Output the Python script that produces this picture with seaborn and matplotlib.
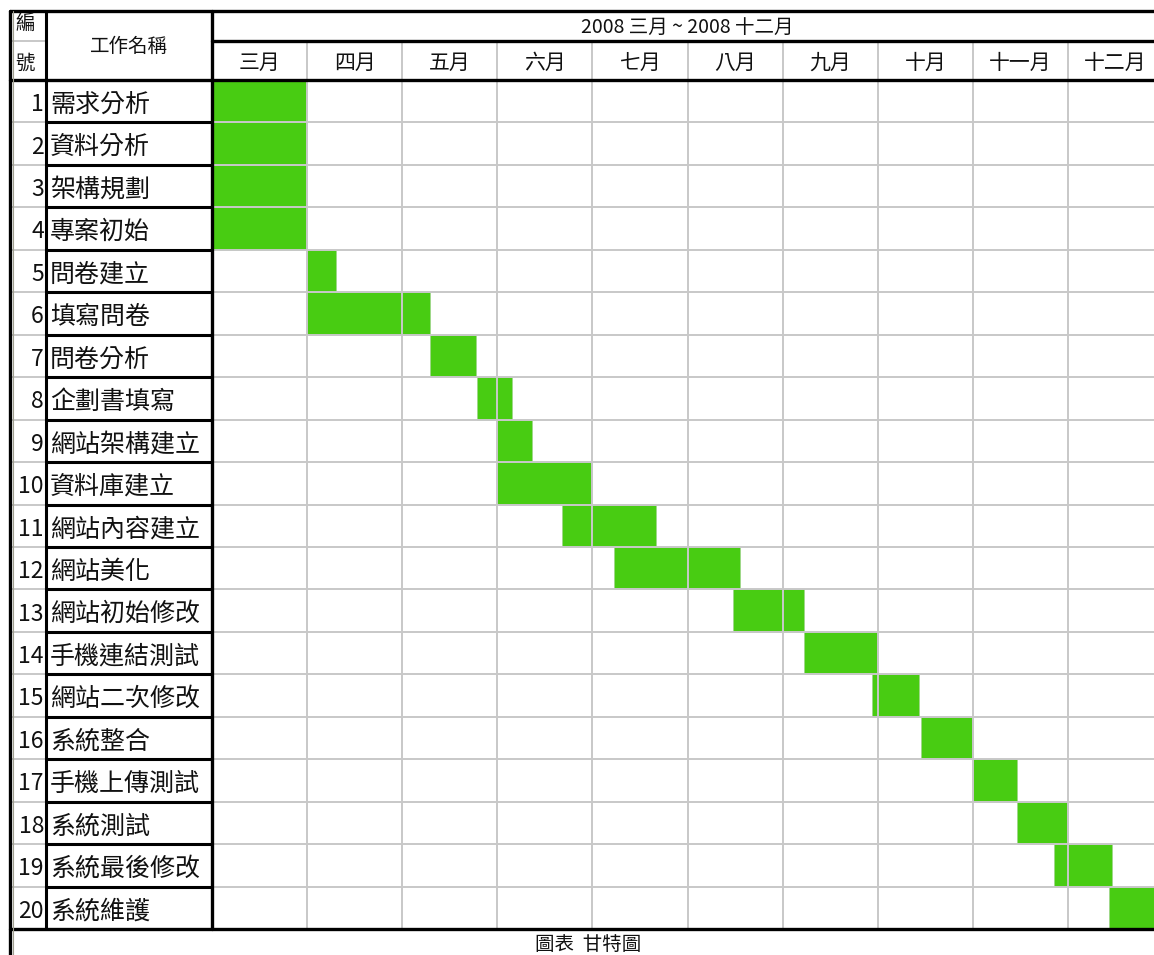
import matplotlib
matplotlib.use("Agg")
import matplotlib.pyplot as plt
import matplotlib.transforms as mtransforms
import seaborn as sns
import numpy as np

# Datos del diagrama de Gantt (meses contados desde el inicio de marzo)
tareas = ["需求分析", "資料分析", "架構規劃", "專案初始", "問卷建立",
          "填寫問卷", "問卷分析", "企劃書填寫", "網站架構建立", "資料庫建立",
          "網站內容建立", "網站美化", "網站初始修改", "手機連結測試", "網站二次修改",
          "系統整合", "手機上傳測試", "系統測試", "系統最後修改", "系統維護"]
inicio = [0.0, 0.0, 0.0, 0.0, 1.0, 1.0, 2.29, 2.79, 3.0, 3.0,
          3.68, 4.23, 5.48, 6.22, 6.94, 7.46, 8.0, 8.47, 8.85, 9.43]
fin = [1.0, 1.0, 1.0, 1.0, 1.3, 2.29, 2.78, 3.15, 3.37, 4.0,
       4.67, 5.55, 6.22, 7.0, 7.43, 8.0, 8.47, 9.0, 9.46, 10.0]
meses = ["三月", "四月", "五月", "六月", "七月", "八月", "九月", "十月", "十一月", "十二月"]
titulo_periodo = "2008 三月 ~ 2008 十二月"
leyenda = "圖表  甘特圖"

VERDE = "#48cc12"
GRIS_LINEA = "#c8c8c8"
NEGRO = "#000000"
TEXTO = "#111111"

sns.set_theme(style="white")
plt.rcParams['font.family'] = ['Noto Sans CJK TC', 'DejaVu Sans']

# Tamaño en pixeles del lienzo y de la tabla
ANCHO, ALTO = 1154, 955
X_NUM, X_NOMBRE, X_GANTT = 10, 46, 212
Y_TOP, Y_MID, Y_HEAD, Y_BOT = 11, 41, 80, 929
ANCHO_MES = 95.1

fig = plt.figure(figsize=(ANCHO / 100, ALTO / 100), dpi=100)
fig.patch.set_facecolor("white")

# Area del Gantt
gantt = fig.add_axes([X_GANTT / ANCHO, 1 - Y_BOT / ALTO,
                      (ANCHO - X_GANTT) / ANCHO, (Y_BOT - Y_HEAD) / ALTO])
n = len(tareas)
filas = np.arange(n) + 0.5
duracion = np.array(fin) - np.array(inicio)
gantt.barh(filas, duracion, left=inicio, height=1.0, color=VERDE,
           edgecolor="#9fd88a", linewidth=0.7)
gantt.set_xlim(0, (ANCHO - X_GANTT) / ANCHO_MES)
gantt.set_ylim(n, 0)
gantt.set_xticks(np.arange(1, len(meses)))
gantt.set_yticks(np.arange(1, n))
gantt.tick_params(length=0, labelbottom=False, labelleft=False)
gantt.grid(True, color=GRIS_LINEA, linewidth=1.4)
gantt.set_axisbelow(False)
for spine in gantt.spines.values():
    spine.set_visible(False)

# Nombres de los meses en el encabezado
trans_mes = mtransforms.blended_transform_factory(gantt.transData, gantt.transAxes)
y_mes = 1 + (Y_HEAD - 63) / (Y_BOT - Y_HEAD)
for k, mes in enumerate(meses):
    gantt.text(k + 0.5, y_mes, mes, transform=trans_mes, ha="center", va="center",
               fontsize=15, color=TEXTO, clip_on=False)

# Capa superior con la estructura de la tabla (en pixeles)
tabla = fig.add_axes([0, 0, 1, 1])
tabla.set_xlim(0, ANCHO)
tabla.set_ylim(ALTO, 0)
tabla.patch.set_alpha(0)
tabla.axis("off")

alto_fila = (Y_BOT - Y_HEAD) / n
for i in range(1, n):
    y = Y_HEAD + i * alto_fila
    tabla.plot([X_NUM, X_NOMBRE], [y, y], color=GRIS_LINEA, lw=1.4)
    tabla.plot([X_NOMBRE, X_GANTT], [y, y], color=NEGRO, lw=2.2)
tabla.plot([X_NUM, X_NOMBRE], [Y_MID, Y_MID], color=GRIS_LINEA, lw=1.4)
for k in range(1, len(meses)):
    x = X_GANTT + k * ANCHO_MES
    tabla.plot([x, x], [Y_MID, Y_HEAD], color=GRIS_LINEA, lw=1.4)

tabla.plot([X_NUM, ANCHO], [Y_TOP, Y_TOP], color=NEGRO, lw=2.4)
tabla.plot([X_GANTT, ANCHO], [Y_MID, Y_MID], color=NEGRO, lw=2.4)
tabla.plot([X_NUM, ANCHO], [Y_HEAD, Y_HEAD], color=NEGRO, lw=2.4)
tabla.plot([X_NUM, ANCHO], [Y_BOT, Y_BOT], color=NEGRO, lw=2.4)
tabla.plot([X_NUM, X_NUM], [Y_TOP, ALTO], color=NEGRO, lw=2.4)
tabla.plot([X_NUM + 3, X_NUM + 3], [Y_TOP, ALTO], color="#a0a090", lw=0.8)
tabla.plot([X_NOMBRE, X_NOMBRE], [Y_TOP, Y_BOT], color=NEGRO, lw=2.2)
tabla.plot([X_GANTT, X_GANTT], [Y_TOP, Y_BOT], color=NEGRO, lw=2.4)

# Textos del encabezado
tabla.text(25, 23, "編", ha="center", va="center", fontsize=14, color=TEXTO)
tabla.text(25, 63, "號", ha="center", va="center", fontsize=14, color=TEXTO)
tabla.text((X_NOMBRE + X_GANTT) / 2, 46, "工作名稱", ha="center", va="center",
           fontsize=14, color=TEXTO)
tabla.text(X_GANTT + 5 * ANCHO_MES, 27, titulo_periodo, ha="center", va="center",
           fontsize=14, color=TEXTO)

# Numero y nombre de cada tarea
trans_fila = mtransforms.blended_transform_factory(tabla.transData, gantt.transData)
for i, tarea in enumerate(tareas):
    tabla.text(X_NOMBRE - 2, filas[i] + 0.08, str(i + 1), transform=trans_fila,
               ha="right", va="center", fontsize=16.5, color=TEXTO)
    tabla.text(X_NOMBRE + 4, filas[i] + 0.08, tarea, transform=trans_fila,
               ha="left", va="center", fontsize=18, color=TEXTO)

tabla.text(588, 944, leyenda, ha="center", va="center", fontsize=14, color=TEXTO)

fig.savefig("out.png", dpi=100, facecolor=fig.get_facecolor())
plt.close(fig)
